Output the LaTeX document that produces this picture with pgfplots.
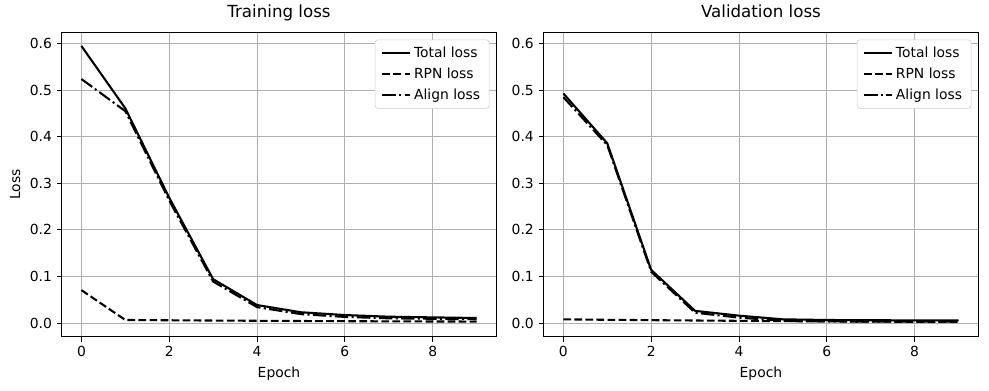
\documentclass[border=0pt]{standalone}
\usepackage{fontspec}
\setmainfont{DejaVu Sans}
\usepackage{pgfplots}
\pgfplotsset{compat=1.18}
\definecolor{gridgray}{HTML}{B0B0B0}
\definecolor{leggray}{HTML}{CCCCCC}

\pgfplotsset{
  lossax/.style={
    scale only axis,
    width=313pt, height=219pt,
    xmin=-0.45, xmax=9.45,
    ymin=-0.0297, ymax=0.6237,
    xtick={0,2,4,6,8},
    ytick={0,0.1,0.2,0.3,0.4,0.5,0.6},
    yticklabel style={/pgf/number format/.cd, fixed, fixed zerofill, precision=1},
    /pgf/number format/assume math mode=true,
    tick label style={font=\fontsize{10}{12}\selectfont},
    label style={font=\fontsize{10}{12}\selectfont},
    every axis title shift=0pt,
    title style={font=\fontsize{12}{14}\selectfont, at={(0.5,1)}, anchor=base, yshift=11pt},
    tick align=outside, tick pos=left,
    major tick length=3.5pt,
    every tick/.style={black, line width=0.6pt},
    axis line style={line width=0.6pt},
    grid=major,
    grid style={gridgray, line width=0.6pt},
    xlabel={Epoch},
    legend cell align=left,
    legend style={at={(1,1)}, anchor=north east, xshift=-5pt, yshift=-5pt,
      draw=leggray, rounded corners=2pt, fill=white,
      font=\fontsize{10}{12}\selectfont,
      row sep=2pt, inner xsep=4.5pt, inner ysep=3pt},
    legend image code/.code={\draw[#1] (0pt,0pt) -- (20pt,0pt);},
  },
  totl/.style={black, line width=1.5pt, solid},
  rpnl/.style={black, line width=1.5pt, dash pattern=on 5.55pt off 2.4pt},
  alnl/.style={black, line width=1.5pt, dash pattern=on 9.6pt off 2.4pt on 1.5pt off 2.4pt},
}

\begin{document}
\begin{tikzpicture}
\useasboundingbox (-44.4pt,-38.4pt) rectangle (667.7pt,242.5pt);
\begin{axis}[lossax, title={Training loss}, ylabel={Loss}]
\addplot[totl] coordinates {
  (0,0.595) (1,0.461) (2,0.269) (3,0.094) (4,0.0385) (5,0.023) (6,0.017) (7,0.0135) (8,0.012) (9,0.0107)
};
\addlegendentry{Total loss}
\addplot[rpnl] coordinates {
  (0,0.0705) (1,0.0064) (2,0.0058) (3,0.0052) (4,0.0047) (5,0.0042) (6,0.0038) (7,0.0035) (8,0.0032) (9,0.0030)
};
\addlegendentry{RPN loss}
\addplot[alnl] coordinates {
  (0,0.524) (1,0.455) (2,0.263) (3,0.089) (4,0.034) (5,0.019) (6,0.013) (7,0.010) (8,0.009) (9,0.008)
};
\addlegendentry{Align loss}
\end{axis}

\begin{axis}[lossax, at={(347pt,0pt)}, title={Validation loss}]
\addplot[totl] coordinates {
  (0,0.493) (1,0.386) (2,0.114) (3,0.026) (4,0.0157) (5,0.0078) (6,0.0064) (7,0.0058) (8,0.0057) (9,0.0057)
};
\addlegendentry{Total loss}
\addplot[rpnl] coordinates {
  (0,0.0078) (1,0.0068) (2,0.0060) (3,0.0053) (4,0.0046) (5,0.0040) (6,0.0034) (7,0.0029) (8,0.0025) (9,0.0022)
};
\addlegendentry{RPN loss}
\addplot[alnl] coordinates {
  (0,0.485) (1,0.382) (2,0.110) (3,0.022) (4,0.0115) (5,0.0045) (6,0.0035) (7,0.003) (8,0.003) (9,0.003)
};
\addlegendentry{Align loss}
\end{axis}
\end{tikzpicture}
\end{document}
